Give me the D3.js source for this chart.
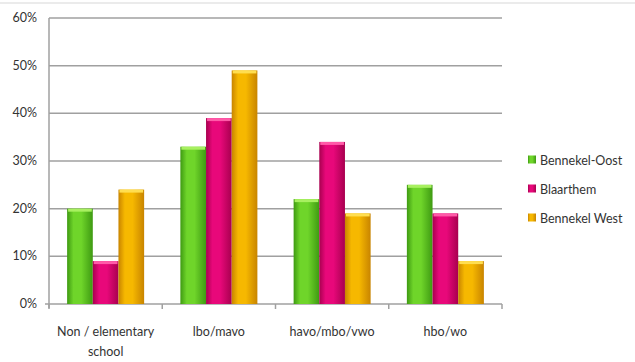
<!DOCTYPE html>
<html><head><meta charset="utf-8">
<script src="https://cdn.jsdelivr.net/npm/d3@7"></script>
<style>body{margin:0;background:#fff}svg{display:block}</style>
</head><body>
<script>
const categories = [["Non / elementary","school"],["lbo/mavo"],["havo/mbo/vwo"],["hbo/wo"]];
const seriesNames = ["Bennekel-Oost","Blaarthem","Bennekel West"];
const bennekelOost = [20,33,22,25];
const blaarthem = [9,39,34,19];
const bennekelWest = [24,49,19,9];
const yTicks = [0,10,20,30,40,50,60];
const colors = ["#6fd52a","#e8087a","#f6b800"];
const dark = ["#3e9a12","#a8004f","#c88400"];
const light = ["#a8f060","#ff5aa8","#ffde50"];

const W=635,H=362;
const svg=d3.select("body").append("svg").attr("width",W).attr("height",H);
const defs=svg.append("defs");
colors.forEach((c,i)=>{
  const g=defs.append("linearGradient").attr("id","g"+i).attr("x1","0").attr("x2","1").attr("y1","0").attr("y2","0");
  g.append("stop").attr("offset","0%").attr("stop-color",dark[i]);
  g.append("stop").attr("offset","25%").attr("stop-color",c);
  g.append("stop").attr("offset","55%").attr("stop-color",c);
  g.append("stop").attr("offset","100%").attr("stop-color",dark[i]);
});
svg.append("line").attr("x1",0).attr("x2",W).attr("y1",3).attr("y2",3).attr("stroke","#e4e4e4").attr("stroke-width",1.5);

const x0=49,x1=502,yTop=18,yBot=304;
const x=d3.scaleBand().domain(d3.range(categories.length)).range([x0,x1]).paddingInner(0.32).paddingOuter(0.16);
const xs=d3.scaleBand().domain(d3.range(3)).range([0,x.bandwidth()]);
const y=d3.scaleLinear().domain([0,60]).range([yBot,yTop]);
const xb=d3.scaleBand().domain(d3.range(categories.length)).range([x0,x1]);

svg.append("g").selectAll("line").data(yTicks.slice(1)).join("line")
  .attr("x1",x0).attr("x2",x1).attr("y1",d=>y(d)).attr("y2",d=>y(d))
  .attr("stroke","#a0a0a0").attr("stroke-width",1.5);
svg.append("line").attr("x1",x0).attr("x2",x0).attr("y1",yTop).attr("y2",yBot+4).attr("stroke","#a0a0a0").attr("stroke-width",1.5);
svg.append("line").attr("x1",x0-4).attr("x2",x1).attr("y1",yBot).attr("y2",yBot).attr("stroke","#a0a0a0").attr("stroke-width",1.5);
svg.append("g").selectAll("line").data(d3.range(categories.length+1)).join("line")
  .attr("x1",d=>x0+d*xb.bandwidth()).attr("x2",d=>x0+d*xb.bandwidth()).attr("y1",yBot).attr("y2",yBot+5)
  .attr("stroke","#a0a0a0").attr("stroke-width",1.5);

svg.append("g").selectAll("text").data(yTicks).join("text")
  .attr("x",37).attr("y",d=>y(d)+4).attr("text-anchor","end")
  .attr("font-family","Lato, 'Open Sans', sans-serif").attr("font-size",12.5).attr("fill","#333")
  .text(d=>d+"%");

const series=[bennekelOost,blaarthem,bennekelWest];
series.forEach((vals,si)=>{
  const g=svg.append("g");
  g.selectAll("rect").data(vals).join("rect")
    .attr("x",(d,i)=>x(i)+xs(si)).attr("width",xs.bandwidth())
    .attr("y",d=>y(d)).attr("height",d=>yBot-y(d)).attr("fill","url(#g"+si+")");
  g.selectAll("ellipse").data(vals).join("rect")
    .attr("x",(d,i)=>x(i)+xs(si)+1).attr("width",xs.bandwidth()-2)
    .attr("y",d=>y(d)).attr("height",3).attr("fill",light[si]);
});

const cl=svg.append("g").selectAll("text").data(categories).join("text")
  .attr("x",(d,i)=>xb(i)+xb.bandwidth()/2).attr("y",336).attr("text-anchor","middle")
  .attr("font-family","Lato, 'Open Sans', sans-serif").attr("font-size",12.5).attr("fill","#333");
cl.selectAll("tspan").data(d=>d).join("tspan").attr("x",function(){return this.parentNode.getAttribute("x");})
  .attr("dy",(d,i)=>i?20:0).text(d=>d);

const ly=[160,189,218];
const lg=svg.append("g").selectAll("g").data(seriesNames).join("g");
lg.append("rect").attr("x",528).attr("y",(d,i)=>ly[i]-4.5).attr("width",8).attr("height",8).attr("fill",(d,i)=>"url(#g"+i+")");
lg.append("text").attr("x",540).attr("y",(d,i)=>ly[i]+4.5)
  .attr("font-family","Lato, 'Open Sans', sans-serif").attr("font-size",12.5).attr("fill","#333").text(d=>d);
</script>
</body></html>
